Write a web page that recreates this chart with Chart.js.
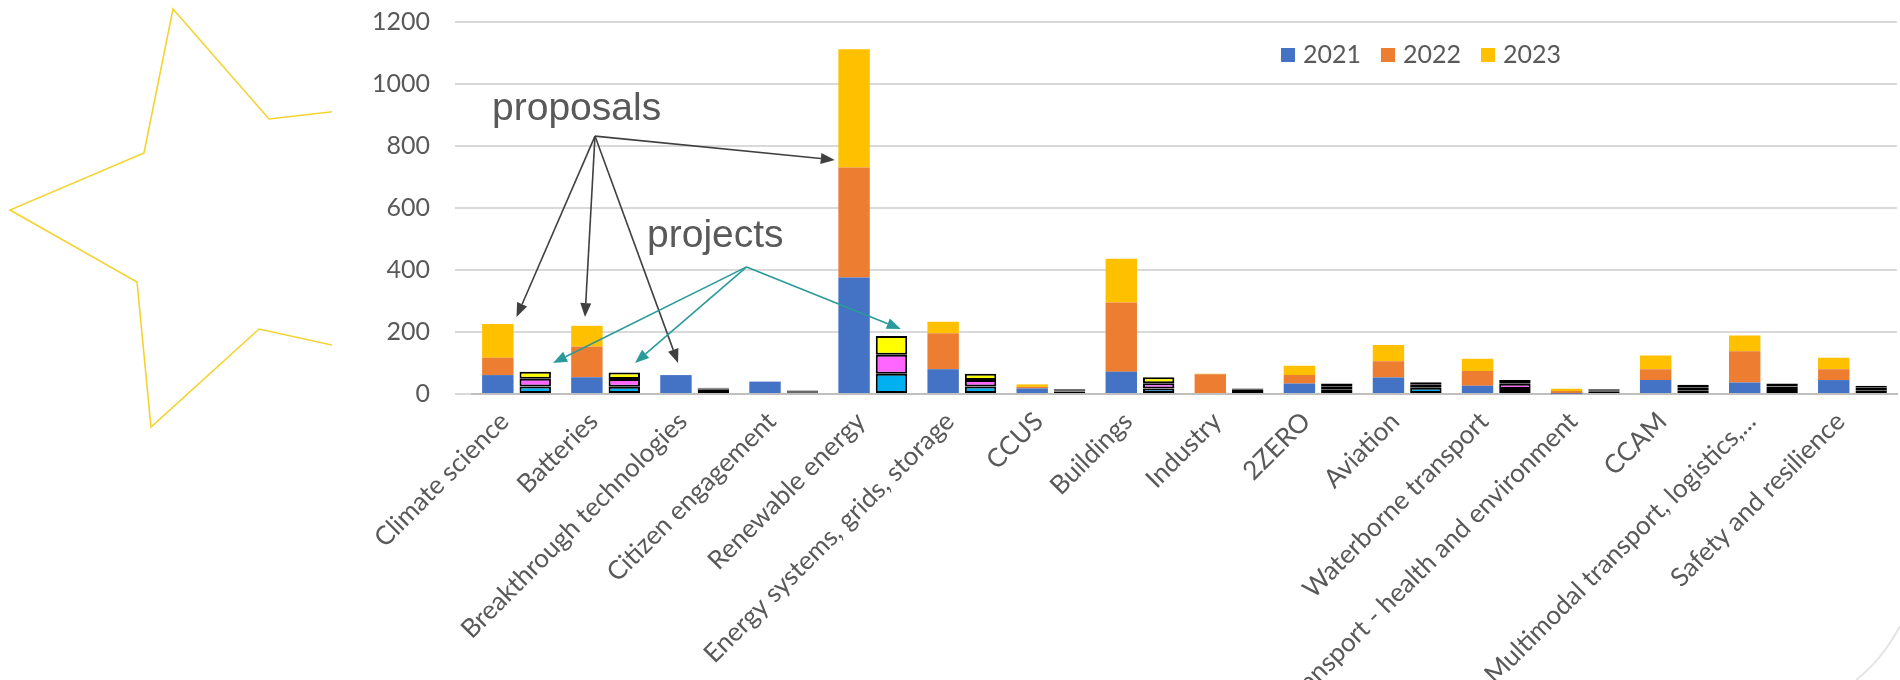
<!DOCTYPE html>
<html>
<head>
<meta charset="utf-8">
<script src="https://cdn.jsdelivr.net/npm/chart.js@4.4.1/dist/chart.umd.min.js"></script>
<style>
  html, body { margin: 0; padding: 0; background: #fff; }
  body { width: 1900px; height: 680px; position: relative; overflow: hidden; }
  #star { position: absolute; left: 0; top: 0; }
  #wrap { position: absolute; left: 332px; top: 0; width: 1568px; height: 680px; background: #fff; }
  #curl { position: absolute; left: 0; top: 0; pointer-events: none; }
</style>
</head>
<body>
<svg id="star" width="400" height="680">
  <polyline points="400,104 269,119 173,9 144,153 10,210 137,282 151,427 259,329 400,360"
            fill="none" stroke="#f4d330" stroke-width="1.6" stroke-linejoin="miter"/>
</svg>
<div id="wrap"><canvas id="chart" width="1568" height="680"></canvas></div>
<svg id="curl" width="1900" height="680">
  <path d="M1856,680 Q1882,660 1900,626" fill="none" stroke="#e4e4e4" stroke-width="2"/>
</svg>
<script>
// categories and values
const categories = [
    'Climate science', 'Batteries', 'Breakthrough technologies', 'Citizen engagement',
    'Renewable energy', 'Energy systems, grids, storage', 'CCUS', 'Buildings', 'Industry',
    '2ZERO', 'Aviation', 'Waterborne transport', 'Transport - health and environment',
    'CCAM', 'Multimodal transport, logistics,...', 'Safety and resilience'
];
const years = ['2021', '2022', '2023'];

const proposals2021 = [61, 54, 61, 40, 376, 80, 18, 72, 3, 34, 53, 27, 1, 45, 37, 45];
const proposals2022 = [56, 99, 0, 0, 355, 116, 5, 223, 61, 27, 53, 47, 9, 35, 101, 35];
const proposals2023 = [109, 67, 0, 0, 381, 37, 8, 141, 1, 30, 52, 40, 7, 44, 51, 37];

const projects2021 = [24, 23, 15, 6, 65, 24, 8, 18, 10, 15, 20, 16, 7, 12, 13, 12];
const projects2022 = [25, 25, 3, 3, 62, 21, 4, 17, 5, 10, 10, 17, 5, 10, 11, 8];
const projects2023 = [23, 21, 2, 2, 60, 20, 3, 19, 3, 9, 8, 12, 3, 8, 10, 7];

const yTicks = [0, 200, 400, 600, 800, 1000, 1200];

const proposalColors = ['#4472C4', '#ED7D31', '#FFC000'];
const projectColors = ['#00B0F0', '#FF66FF', '#FFFF00'];

// annotation anchors: [category index, pixel shift from category centre, value]
const noteTexts = [
    { text: 'proposals', at: [0, -24.5, 884] },
    { text: 'projects', at: [2, -47.6, 474] }
];
const noteArrows = [
    { color: '#404040', from: [1, -10.6, 832], to: [[0, 0, 248], [1, -20.6, 248], [2, -16.6, 100], [4, -38, 755]] },
    { color: '#2a9a9a', from: [2, 52, 410], to: [[0, 36.5, 100], [1, 29.4, 100], [4, 28, 210]] }
];

const proposalSeries = [proposals2021, proposals2022, proposals2023];
const projectSeries = [projects2021, projects2022, projects2023];

const datasets = [];
proposalSeries.forEach((data, i) => {
    datasets.push({
        label: years[i],
        data: data,
        backgroundColor: proposalColors[i],
        stack: 'proposals'
    });
});
projectSeries.forEach((data, i) => {
    datasets.push({
        label: 'projects ' + years[i],
        data: data,
        backgroundColor: projectColors[i],
        borderColor: '#000',
        borderWidth: 2,
        borderSkipped: false,
        stack: 'projects'
    });
});

function anchor(chart, a) {
    const x = chart.scales.x.getPixelForValue(a[0]) + a[1];
    const y = chart.scales.y.getPixelForValue(a[2]);
    return [x, y];
}

// legend for the three proposal years, placed inside the plot like the original
const yearLegend = {
    id: 'yearLegend',
    afterDraw(chart) {
        const ctx = chart.ctx;
        ctx.save();
        ctx.font = '25px Lato';
        ctx.textBaseline = 'middle';
        let x = 949;
        const y = 55;
        for (let i = 0; i < 3; i++) {
            const ds = chart.data.datasets[i];
            ctx.fillStyle = ds.backgroundColor;
            ctx.fillRect(x, y - 7, 14, 14);
            x += 22;
            ctx.fillStyle = '#595959';
            ctx.fillText(ds.label, x, y);
            x += ctx.measureText(ds.label).width + 20;
        }
        ctx.restore();
    }
};

// "proposals" / "projects" callouts with arrows
const callouts = {
    id: 'callouts',
    afterDraw(chart) {
        const ctx = chart.ctx;
        ctx.save();
        ctx.font = '39px "Liberation Sans", Arial, sans-serif';
        ctx.fillStyle = '#595959';
        ctx.textBaseline = 'alphabetic';
        noteTexts.forEach(n => {
            const [x, y] = anchor(chart, n.at);
            ctx.fillText(n.text, x, y);
        });
        noteArrows.forEach(group => {
            const [fx, fy] = anchor(chart, group.from);
            ctx.strokeStyle = group.color;
            ctx.fillStyle = group.color;
            ctx.lineWidth = 1.6;
            group.to.forEach(t => {
                const [tx, ty] = anchor(chart, t);
                const ang = Math.atan2(ty - fy, tx - fx);
                const headLen = 14, headW = 5.5;
                const bx = tx - Math.cos(ang) * headLen;
                const by = ty - Math.sin(ang) * headLen;
                ctx.beginPath();
                ctx.moveTo(fx, fy);
                ctx.lineTo(bx, by);
                ctx.stroke();
                ctx.beginPath();
                ctx.moveTo(tx, ty);
                ctx.lineTo(bx + Math.sin(ang) * headW, by - Math.cos(ang) * headW);
                ctx.lineTo(bx - Math.sin(ang) * headW, by + Math.cos(ang) * headW);
                ctx.closePath();
                ctx.fill();
            });
        });
        ctx.restore();
    }
};

const ctx = document.getElementById('chart').getContext('2d');
new Chart(ctx, {
    type: 'bar',
    data: { labels: categories, datasets: datasets },
    options: {
        responsive: false,
        animation: false,
        categoryPercentage: 0.84,
        barPercentage: 0.84,
        layout: { padding: { top: 22, right: 3, left: 0, bottom: 0 } },
        plugins: {
            tooltip: { enabled: false },
            legend: { display: false }
        },
        scales: {
            x: {
                stacked: true,
                afterFit: (s) => { s.height = 286; },
                grid: { display: false, drawTicks: false },
                border: { display: true, color: '#bfbfbf', width: 2 },
                ticks: {
                    autoSkip: false,
                    maxRotation: 45,
                    minRotation: 45,
                    padding: 12,
                    labelOffset: -12,
                    color: '#595959',
                    font: { family: 'Lato', size: 26 }
                }
            },
            y: {
                stacked: true,
                min: 0,
                max: 1200,
                afterBuildTicks: (s) => { s.ticks = yTicks.map(v => ({ value: v })); },
                afterFit: (s) => {
                    s.width = 140;
                    s.paddingTop = 0;
                    s.paddingBottom = 0;
                },
                grid: { color: '#d9d9d9', lineWidth: 2, drawTicks: true, tickLength: 17, tickColor: '#d9d9d9' },
                border: { display: false },
                ticks: {
                    padding: 25,
                    color: '#595959',
                    font: { family: 'Lato', size: 25 },
                    callback: (v) => String(v)
                }
            }
        }
    },
    plugins: [yearLegend, callouts]
});
</script>
</body>
</html>
